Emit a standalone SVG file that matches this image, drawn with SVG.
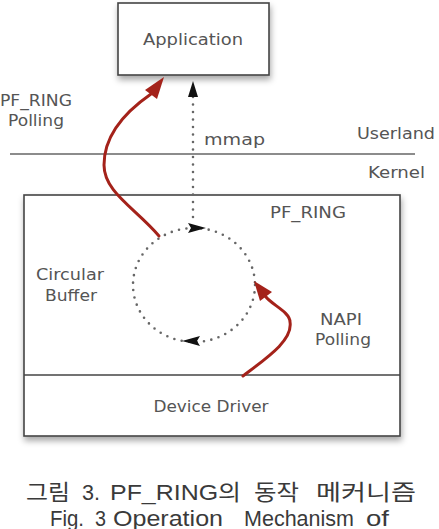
<svg xmlns="http://www.w3.org/2000/svg" width="439" height="529" viewBox="0 0 439 529">
<style>
.lbl{font-family:"DejaVu Sans","Liberation Sans",sans-serif;font-size:15px;fill:#555}
.box{fill:#fff;stroke:#444;stroke-width:1.6}
.red{fill:none;stroke:#a4221a;stroke-width:3;stroke-linecap:round}
.redh{fill:#a4221a}
.dot{fill:none;stroke:#666;stroke-width:2.6;stroke-dasharray:0 7.5;stroke-linecap:round}
.cap{font-family:"Liberation Sans","Noto Sans CJK KR",sans-serif;font-size:22px;fill:#3a3a3a}
</style>
<defs>
<filter id="sh" x="-10%" y="-10%" width="130%" height="140%">
<feDropShadow dx="1" dy="4" stdDeviation="3" flood-color="#000" flood-opacity="0.35"/>
</filter>
</defs>
<rect width="439" height="529" fill="#fff"/>
<g id="application">
<rect class="box" x="118" y="3" width="151" height="72" filter="url(#sh)"/>
<text class="lbl" x="193" y="45" text-anchor="middle" textLength="100" lengthAdjust="spacingAndGlyphs">Application</text>
</g>
<g id="boundary">
<line x1="10" y1="154" x2="415" y2="154" stroke="#666" stroke-width="1.6"/>
<text class="lbl" x="357" y="139" textLength="78" lengthAdjust="spacingAndGlyphs">Userland</text>
<text class="lbl" x="368" y="178" textLength="57" lengthAdjust="spacingAndGlyphs">Kernel</text>
</g>
<g id="pfring">
<rect class="box" x="24" y="195" width="376" height="241" filter="url(#sh)"/>
<line x1="24" y1="375" x2="400" y2="375" stroke="#444" stroke-width="1.6"/>
<text class="lbl" x="270" y="218" textLength="76" lengthAdjust="spacingAndGlyphs">PF_RING</text>
<text class="lbl" x="36" y="280" textLength="68" lengthAdjust="spacingAndGlyphs">Circular</text>
<text class="lbl" x="45" y="301" textLength="52" lengthAdjust="spacingAndGlyphs">Buffer</text>
<text class="lbl" x="320" y="325" textLength="42" lengthAdjust="spacingAndGlyphs">NAPI</text>
<text class="lbl" x="315" y="345" textLength="56" lengthAdjust="spacingAndGlyphs">Polling</text>
</g>
<g id="device-driver">
<text class="lbl" x="211" y="412" text-anchor="middle" textLength="115" lengthAdjust="spacingAndGlyphs">Device Driver</text>
</g>
<g id="circular-buffer">
<ellipse class="dot" cx="194" cy="285" rx="61" ry="57"/>
<polygon points="206,228 188,223 191,228 188,233" fill="#111"/>
<polygon points="182,341 200,336 197,341 200,346" fill="#111"/>
</g>
<g id="connectors">
<line class="dot" x1="193" y1="97" x2="193" y2="224"/>
<polygon points="193,81 188,97 198,97" fill="#111"/>
<path class="red" d="M159,236 C135,208 104,192 104,165 C104,135 125,112 151,94"/>
<polygon class="redh" points="164,77 157,99 145,90"/>
<path class="red" d="M243,376 C268,357 293,340 290,322 C290,312 271.5,304.6 265.6,296.5"/>
<polygon class="redh" points="254,281 272,292 260,301"/>
<text class="lbl" x="0" y="106" textLength="72" lengthAdjust="spacingAndGlyphs">PF_RING</text>
<text class="lbl" x="8" y="126" textLength="56" lengthAdjust="spacingAndGlyphs">Polling</text>
<text class="lbl" x="204" y="145" textLength="61" lengthAdjust="spacingAndGlyphs">mmap</text>
</g>
<g id="caption">
<text class="cap" y="500"><tspan x="26" textLength="44" lengthAdjust="spacingAndGlyphs">그림</tspan><tspan x="82" textLength="18" lengthAdjust="spacingAndGlyphs">3.</tspan><tspan x="110" textLength="131" lengthAdjust="spacingAndGlyphs">PF_RING의</tspan><tspan x="254" textLength="45" lengthAdjust="spacingAndGlyphs">동작</tspan><tspan x="316" textLength="100" lengthAdjust="spacingAndGlyphs">메커니즘</tspan></text>
<text class="cap" y="526"><tspan x="50" textLength="34" lengthAdjust="spacingAndGlyphs">Fig.</tspan><tspan x="95" textLength="11" lengthAdjust="spacingAndGlyphs">3</tspan><tspan x="113" textLength="110" lengthAdjust="spacingAndGlyphs">Operation</tspan><tspan x="244" textLength="110" lengthAdjust="spacingAndGlyphs">Mechanism</tspan><tspan x="366" textLength="23" lengthAdjust="spacingAndGlyphs">of</tspan></text>
</g>
</svg>
